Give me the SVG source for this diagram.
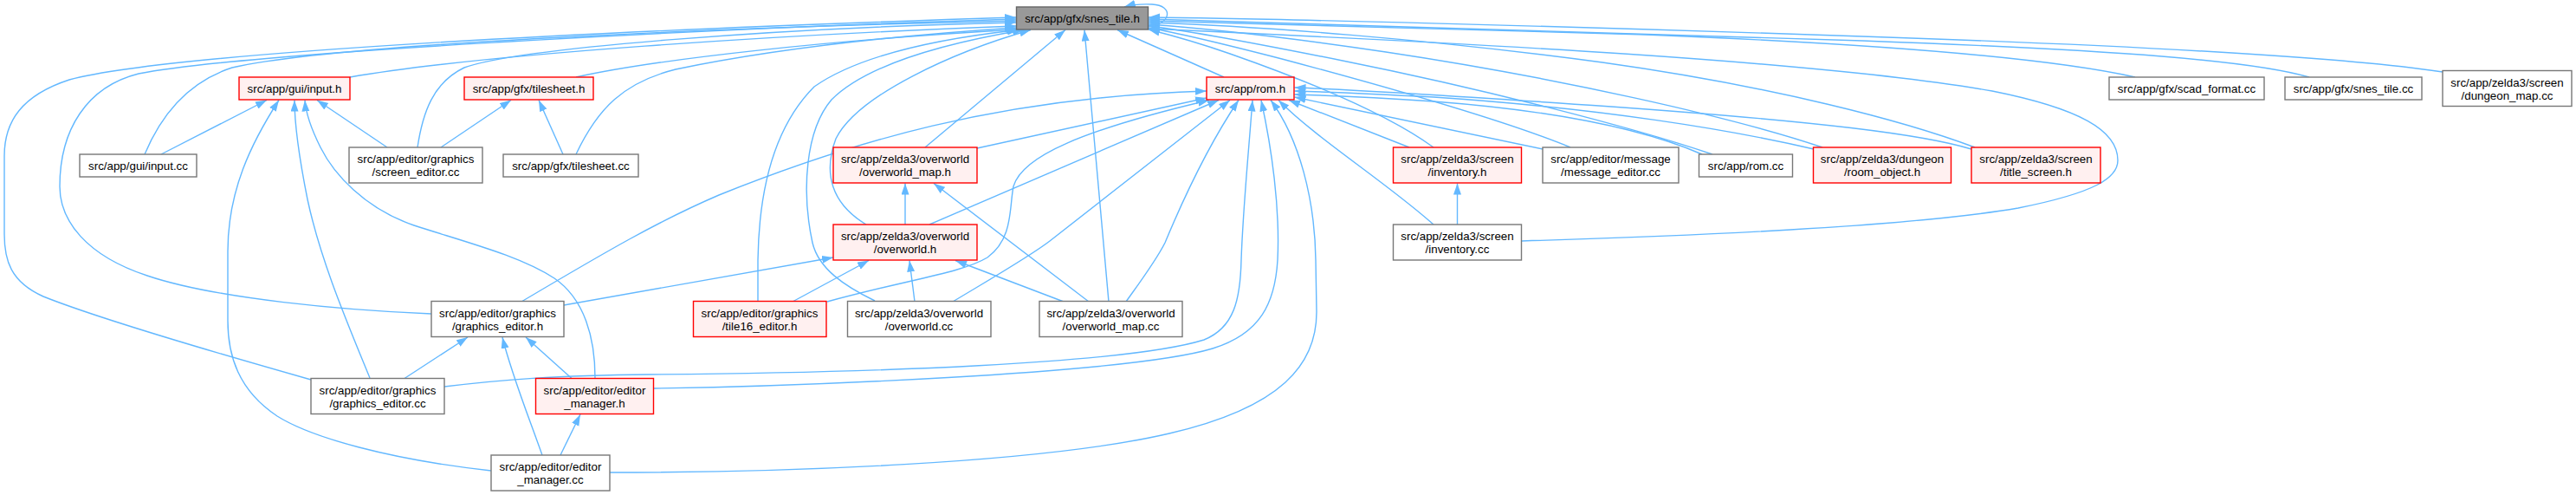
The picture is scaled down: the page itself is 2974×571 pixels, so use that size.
<svg xmlns="http://www.w3.org/2000/svg" width="2974" height="571" viewBox="0 0 2974 571">
<style>
.e{fill:none;stroke:#63B8FF;stroke-width:1.4;marker-end:url(#a)}
.n rect{stroke-width:1.4}
.root rect{fill:#999999;stroke:#666666}
.red rect{fill:#FFF0F0;stroke:#FF0000}
.plain rect{fill:#FFFFFF;stroke:#777777}
text{font-family:"Liberation Sans",Arial,Helvetica,sans-serif;font-size:13.33px;text-anchor:middle;fill:#000000}
</style>
<defs>
<marker id="a" markerUnits="userSpaceOnUse" markerWidth="14" markerHeight="10" refX="13" refY="4.5" orient="auto"><path d="M0,0 L13,4.5 L0,9 z" fill="#63B8FF"/></marker>
</defs>
<rect width="2974" height="571" fill="#FFFFFF"/>
<g id="connectors">
<!-- into snes_tile.h -->
<path class="e" d="M404,89 C560,62 900,40 1173,30"/>
<path class="e" d="M665,89 C760,68 960,46 1175,34"/>
<path class="e" d="M167,178 C185,135 215,95 268,78 C400,48 900,30 1173,24"/>
<path class="e" d="M482,170 C488,130 500,95 536,78 C600,55 900,32 1173,26"/>
<path class="e" d="M665,178 C690,125 720,95 780,80 C900,55 1050,40 1173,32"/>
<path class="e" d="M498,362 C400,358 250,345 170,318 C100,295 69,255 69,215 C69,150 100,100 160,85 C300,58 900,30 1173,22"/>
<path class="e" d="M359,438 C260,410 120,370 50,342 C12,325 5,300 5,270 L5,180 C5,140 25,110 80,92 C200,60 700,35 1173,20"/>
<path class="e" d="M875,348 L875,300 C876,230 890,150 940,100 C990,65 1080,45 1176,34.5"/>
<path class="e" d="M1010,347 C975,330 945,310 938,280 C925,220 930,150 960,115 C1000,75 1090,50 1182,34.5"/>
<path class="e" d="M1000,259 C960,235 950,200 965,160 C990,110 1100,60 1190,34.5"/>
<path class="e" d="M1068,170 L1230,34.5"/>
<path class="e" d="M1280,348 L1252,34.5"/>
<path class="e" d="M1413,89 L1290,34.5"/>
<path class="e" d="M1655,170 C1600,130 1500,90 1420,62 C1380,48 1350,40 1326,34"/>
<path class="e" d="M1813,170 C1740,140 1600,100 1480,68 C1410,50 1360,38 1326,32"/>
<path class="e" d="M1977,178 C1880,145 1700,100 1550,70 C1450,50 1370,35 1326,30"/>
<path class="e" d="M2104,170 C2000,135 1800,90 1600,60 C1480,42 1380,32 1326,28"/>
<path class="e" d="M2280,170 C2200,140 2050,100 1850,72 C1650,45 1450,30 1326,26"/>
<path class="e" d="M2465,89 C2380,70 2200,52 1900,40 C1600,30 1420,25 1326,24"/>
<path class="e" d="M2666,89 C2600,70 2450,58 2150,47 C1800,34 1450,24 1326,22"/>
<path class="e" d="M2820,83 C2700,65 2450,52 2150,42 C1800,30 1450,21 1326,20"/>
<path class="e" d="M1757,278 C1950,272 2200,262 2330,240 C2420,222 2445,205 2445,185 C2445,150 2400,125 2300,105 C2100,70 1700,50 1326,33"/>
<path class="e" d="M1325.5,30 C1352,29 1356,6 1330,5 C1318,4.5 1308,5 1298,8"/>
<!-- into rom.h -->
<path class="e" d="M602,348 C700,290 760,255 830,225 C980,165 1150,112 1393,105"/>
<path class="e" d="M1128,171 L1393,113"/>
<path class="e" d="M955,348 C1050,322 1110,315 1140,297 C1170,275 1165,240 1170,215 C1180,180 1250,150 1396,115.5"/>
<path class="e" d="M1073,259 L1407,115.5"/>
<path class="e" d="M1100,348 C1150,318 1190,295 1212,278 C1300,210 1370,155 1420,115.5"/>
<path class="e" d="M1300,348 C1320,320 1335,300 1345,280 C1370,220 1400,160 1430,115.5"/>
<path class="e" d="M513,446 C580,438 640,433 750,432 C1000,430 1300,420 1390,392 C1425,378 1432,345 1433,300 C1435,240 1442,170 1446,115.5"/>
<path class="e" d="M755,448 C900,446 1300,432 1400,402 C1455,385 1472,350 1475,300 C1478,240 1468,170 1456,115.5"/>
<path class="e" d="M704,545 C900,545 1200,535 1350,500 C1480,470 1520,420 1520,360 L1519,300 C1518,230 1500,160 1467,115.5"/>
<path class="e" d="M1627,170 L1488,115.5"/>
<path class="e" d="M1655,259 C1600,210 1520,160 1476,115.5"/>
<path class="e" d="M1781,172 L1494.5,112"/>
<path class="e" d="M1965,178 C1900,150 1800,128 1655,117 C1580,112 1530,110 1494.5,109"/>
<path class="e" d="M2094,172 C2000,150 1850,125 1655,112 C1580,108 1530,106 1494.5,105"/>
<path class="e" d="M2276,172 C2220,155 2100,140 1860,123 C1700,112 1580,104 1494.5,101"/>
<!-- into input.h -->
<path class="e" d="M186,178 L308,115.5"/>
<path class="e" d="M427,436 C400,370 370,300 355,230 C345,180 340,140 340,115.5"/>
<path class="e" d="M567,543 C450,530 360,505 320,480 C275,450 263,410 263,370 L263,290 C263,220 290,165 322,115.5"/>
<path class="e" d="M687,436 C687,390 675,345 640,321 C600,295 540,280 478,260 C420,240 385,200 370,170 C360,150 353,130 352,115.5"/>
<path class="e" d="M447,170 L366,115.5"/>
<!-- into tilesheet.h -->
<path class="e" d="M509,170 L590,115.5"/>
<path class="e" d="M650,178 L622,115.5"/>
<!-- overworld -->
<path class="e" d="M1045,259 L1045,211.5"/>
<path class="e" d="M1257,348 L1078,211.5"/>
<path class="e" d="M651,352 L962,297"/>
<path class="e" d="M915,348 L1003,300.5"/>
<path class="e" d="M1056,348 L1050,300.5"/>
<path class="e" d="M1228,348 L1103,300.5"/>
<!-- inventory -->
<path class="e" d="M1682.5,259 L1682.5,211.5"/>
<!-- graphics editor / editor manager -->
<path class="e" d="M467,436.5 L540,389"/>
<path class="e" d="M626,525 C610,480 590,430 580,389"/>
<path class="e" d="M660,436.5 L607,389"/>
<path class="e" d="M647,525 L670,478"/>
</g>
<g id="snes_tile_h" class="n root"><rect x="1173.5" y="8" width="152" height="26"/><text x="1249.5" y="25.5">src/app/gfx/snes_tile.h</text></g>
<g id="input_h" class="n red"><rect x="276" y="89" width="128" height="26"/><text x="340" y="106.5">src/app/gui/input.h</text></g>
<g id="tilesheet_h" class="n red"><rect x="536" y="89" width="149" height="26"/><text x="610.5" y="106.5">src/app/gfx/tilesheet.h</text></g>
<g id="rom_h" class="n red"><rect x="1393" y="89" width="101" height="26"/><text x="1443.5" y="106.5">src/app/rom.h</text></g>
<g id="scad_format_cc" class="n plain"><rect x="2435" y="89" width="179" height="26"/><text x="2524.5" y="106.5">src/app/gfx/scad_format.cc</text></g>
<g id="snes_tile_cc" class="n plain"><rect x="2638" y="89" width="158" height="26"/><text x="2717" y="106.5">src/app/gfx/snes_tile.cc</text></g>
<g id="dungeon_map_cc" class="n plain"><rect x="2820" y="81.5" width="149" height="41"/><text x="2894.5" y="99.5">src/app/zelda3/screen</text><text x="2894.5" y="114.5">/dungeon_map.cc</text></g>
<g id="gui_input_cc" class="n plain"><rect x="92" y="178" width="135" height="26"/><text x="159.5" y="195.5">src/app/gui/input.cc</text></g>
<g id="screen_editor_cc" class="n plain"><rect x="403" y="170" width="154" height="41"/><text x="480" y="188">src/app/editor/graphics</text><text x="480" y="203">/screen_editor.cc</text></g>
<g id="tilesheet_cc" class="n plain"><rect x="581" y="178" width="156" height="26"/><text x="659" y="195.5">src/app/gfx/tilesheet.cc</text></g>
<g id="overworld_map_h" class="n red"><rect x="962" y="170" width="166" height="41"/><text x="1045" y="188">src/app/zelda3/overworld</text><text x="1045" y="203">/overworld_map.h</text></g>
<g id="inventory_h" class="n red"><rect x="1608.5" y="170" width="148" height="41"/><text x="1682.5" y="188">src/app/zelda3/screen</text><text x="1682.5" y="203">/inventory.h</text></g>
<g id="message_editor_cc" class="n plain"><rect x="1781" y="170" width="157" height="41"/><text x="1859.5" y="188">src/app/editor/message</text><text x="1859.5" y="203">/message_editor.cc</text></g>
<g id="rom_cc" class="n plain"><rect x="1961.5" y="178" width="108" height="26"/><text x="2015.5" y="195.5">src/app/rom.cc</text></g>
<g id="room_object_h" class="n red"><rect x="2093.5" y="170" width="159" height="41"/><text x="2173" y="188">src/app/zelda3/dungeon</text><text x="2173" y="203">/room_object.h</text></g>
<g id="title_screen_h" class="n red"><rect x="2276" y="170" width="149" height="41"/><text x="2350.5" y="188">src/app/zelda3/screen</text><text x="2350.5" y="203">/title_screen.h</text></g>
<g id="overworld_h" class="n red"><rect x="962" y="259" width="166" height="41"/><text x="1045" y="277">src/app/zelda3/overworld</text><text x="1045" y="292">/overworld.h</text></g>
<g id="inventory_cc" class="n plain"><rect x="1608.5" y="259" width="148" height="41"/><text x="1682.5" y="277">src/app/zelda3/screen</text><text x="1682.5" y="292">/inventory.cc</text></g>
<g id="graphics_editor_h" class="n plain"><rect x="498" y="347.5" width="153" height="41"/><text x="574.5" y="365.5">src/app/editor/graphics</text><text x="574.5" y="380.5">/graphics_editor.h</text></g>
<g id="tile16_editor_h" class="n red"><rect x="800.5" y="347.5" width="153.5" height="41"/><text x="877" y="365.5">src/app/editor/graphics</text><text x="877" y="380.5">/tile16_editor.h</text></g>
<g id="overworld_cc" class="n plain"><rect x="978.5" y="347.5" width="165.5" height="41"/><text x="1061" y="365.5">src/app/zelda3/overworld</text><text x="1061" y="380.5">/overworld.cc</text></g>
<g id="overworld_map_cc" class="n plain"><rect x="1200" y="347.5" width="165" height="41"/><text x="1282.5" y="365.5">src/app/zelda3/overworld</text><text x="1282.5" y="380.5">/overworld_map.cc</text></g>
<g id="graphics_editor_cc" class="n plain"><rect x="359" y="436.5" width="154" height="41"/><text x="436" y="454.5">src/app/editor/graphics</text><text x="436" y="469.5">/graphics_editor.cc</text></g>
<g id="editor_manager_h" class="n red"><rect x="618.5" y="436.5" width="136" height="41"/><text x="686.5" y="454.5">src/app/editor/editor</text><text x="686.5" y="469.5">_manager.h</text></g>
<g id="editor_manager_cc" class="n plain"><rect x="567" y="525" width="137" height="41"/><text x="635.5" y="543">src/app/editor/editor</text><text x="635.5" y="558">_manager.cc</text></g>
</svg>
